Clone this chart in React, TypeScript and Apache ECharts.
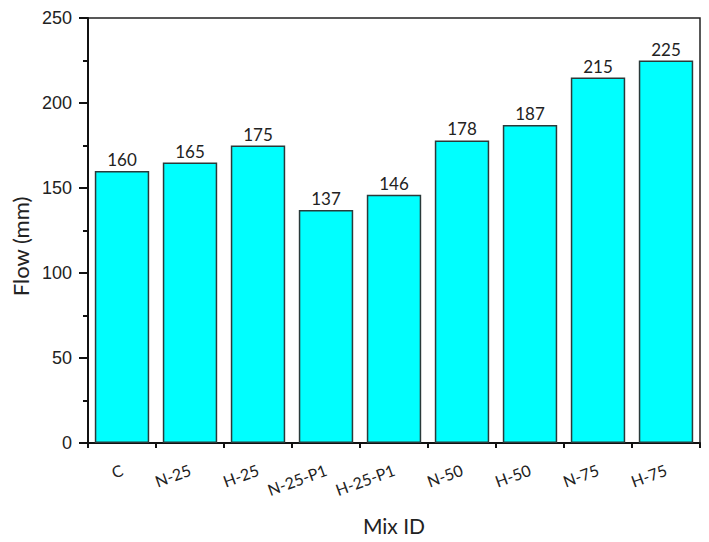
import React, { useEffect, useRef } from "react";
import * as echarts from "echarts";

const categories = ["C", "N-25", "H-25", "N-25-P1", "H-25-P1", "N-50", "H-50", "N-75", "H-75"];
const flowValues = [160, 165, 175, 137, 146, 178, 187, 215, 225];
const yTicks = [0, 50, 100, 150, 200, 250];

export default function App() {
  const ref = useRef<HTMLDivElement>(null);
  useEffect(() => {
    if (!ref.current) return;
    const chart = echarts.init(ref.current, undefined, { renderer: "svg" });
    chart.setOption({
      animation: false,
      backgroundColor: "#ffffff",
      grid: {
        left: 88,
        right: 9,
        top: 18,
        bottom: 99,
        show: true,
        borderColor: "#222",
        borderWidth: 1.5,
        backgroundColor: "transparent",
      },
      xAxis: [
        {
          type: "category",
          data: categories,
          name: "Mix ID",
          nameLocation: "middle",
          nameGap: 72,
          nameTextStyle: { fontFamily: "Lato", fontSize: 21, color: "#222" },
          axisLine: { lineStyle: { color: "#111", width: 2 } },
          axisTick: { alignWithLabel: true, length: 8, lineStyle: { color: "#111", width: 2 } },
          axisLabel: {
            rotate: 20,
            margin: 26,
            fontFamily: "Lato",
            fontSize: 16,
            color: "#222",
          },
        },
        {
          type: "category",
          data: categories,
          position: "bottom",
          axisLine: { show: false },
          axisTick: { show: true, length: 5, lineStyle: { color: "#111", width: 2 } },
          axisLabel: { show: false },
        },
      ],
      yAxis: {
        type: "value",
        min: 0,
        max: 250,
        interval: 50,
        name: "Flow (mm)",
        nameLocation: "middle",
        nameGap: 57,
        nameTextStyle: { fontFamily: "Lato", fontSize: 22, color: "#222", padding: [0, 32, 0, 0] },
        axisLine: { show: true, lineStyle: { color: "#111", width: 2 } },
        axisTick: { show: true, length: 9, lineStyle: { color: "#111", width: 2 } },
        minorTick: { show: true, splitNumber: 2, length: 5, lineStyle: { color: "#111", width: 2 } },
        splitLine: { show: false },
        axisLabel: {
          margin: 16,
          fontFamily: "Liberation Sans",
          fontSize: 18,
          color: "#222",
          formatter: (v: number) => (yTicks.includes(v) ? String(v) : ""),
        },
      },
      series: [
        {
          type: "bar",
          data: flowValues,
          xAxisIndex: 0,
          barCategoryGap: "20%",
          itemStyle: { color: "#00FFFF", borderColor: "#2a3a3a", borderWidth: 1.5 },
          label: {
            show: true,
            position: "top",
            distance: 3,
            fontFamily: "Lato",
            fontSize: 17,
            color: "#222",
          },
        },
      ],
    });
    return () => chart.dispose();
  }, []);
  return (
    <div
      ref={ref}
      style={{ position: "fixed", left: 0, top: 0, width: 709, height: 542 }}
    />
  );
}
